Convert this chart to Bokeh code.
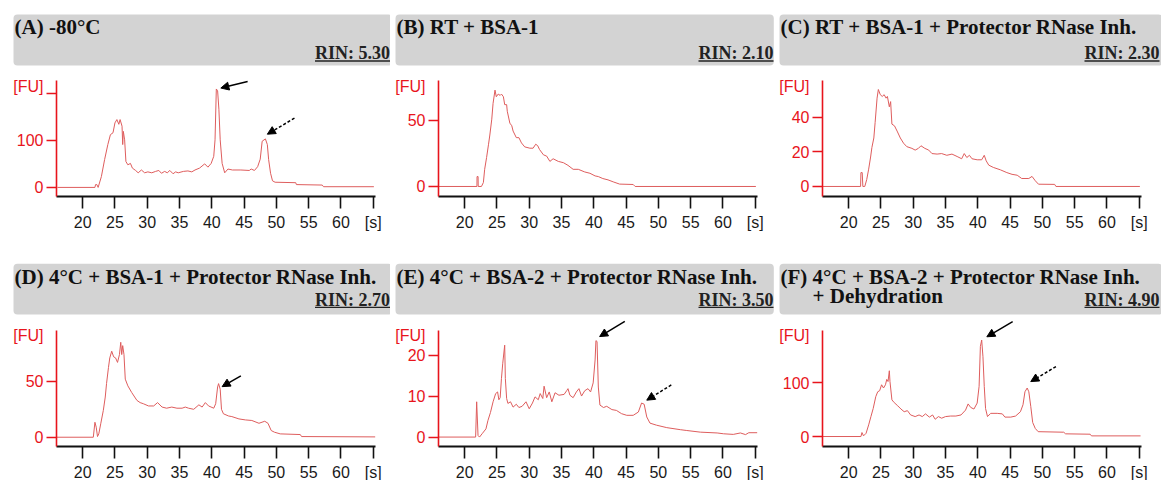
from bokeh.plotting import figure
from bokeh.models import Range1d, FixedTicker, Arrow, NormalHead
from bokeh.layouts import column, row
from bokeh.embed import file_html
from bokeh.resources import INLINE
from bokeh.core.properties import value

# ---------------- data ----------------
titles = [["(A) -80°C"], ["(B) RT + BSA-1"], ["(C) RT + BSA-1 + Protector RNase Inh."],
          ["(D) 4°C + BSA-1 + Protector RNase Inh."], ["(E) 4°C + BSA-2 + Protector RNase Inh."],
          ["(F) 4°C + BSA-2 + Protector RNase Inh.", "+ Dehydration"]]
rins = ["RIN: 5.30", "RIN: 2.10", "RIN: 2.30", "RIN: 2.70", "RIN: 3.50", "RIN: 4.90"]

x_ticks = [20, 25, 30, 35, 40, 45, 50, 55, 60, 65]
y_ticks = [[0, 100, 200], [0, 50], [0, 20, 40], [0, 50], [0, 10, 20], [0, 100]]
y_lims = [(-19.3, 227), (-7.6, 80.3), (-5.8, 61.2), (-8.3, 96), (-2.3, 26.1), (-18.5, 197.6)]

a_x = [16.1, 21.9, 22.0, 22.2, 22.4, 22.9, 23.4, 23.9, 24.3, 24.7, 25.0, 25.3, 25.6, 25.8, 26.1, 26.2, 26.3, 26.5,
       26.7, 27.0, 27.4, 27.7, 28.2, 28.6, 29.1, 29.6, 30.1, 30.7, 31.3, 31.8, 32.2, 32.7, 33.1, 33.5, 34.0, 34.4,
       34.8, 35.6, 36.3, 36.9, 37.4, 38.1, 38.9, 39.4, 39.9, 40.3, 40.5, 40.7, 40.9, 41.1, 41.3, 41.6, 42.0, 42.5,
       43.2, 44.5, 45.8, 46.1, 46.6, 47.1, 47.5, 47.8, 48.3, 48.6, 48.8, 49.1, 49.4, 49.8, 53.0, 53.1, 57.1, 57.3, 65.1]
a_y = [0, 0, 6, 6, 0, 23, 59, 91, 112, 116, 137, 144, 134, 144, 130, 91, 119, 101,
       55, 48, 51, 41, 36, 31, 37, 31, 33, 31, 34, 36, 30, 34, 31, 36, 29, 33,
       31, 34, 35, 33, 37, 41, 50, 43, 51, 66, 101, 209, 205, 166, 101, 51, 31, 39,
       37, 37, 36, 39, 36, 44, 60, 98, 103, 91, 59, 30, 14, 11, 10, 6, 5, 1.5, 1.5]

b_x = [15.95, 21.9, 21.92, 22.08, 22.1, 22.6, 22.9, 23.1, 23.4, 23.7, 23.9, 24.2, 24.4, 24.7, 24.9, 25.2, 25.5, 25.7,
       26.0, 26.2, 26.5, 26.6, 27.0, 27.3, 27.5, 28.0, 28.4, 28.8, 29.3, 30.1, 30.6, 31.0, 31.3, 31.6, 32.2, 32.7,
       33.2, 33.7, 34.5, 35.3, 36.0, 36.8, 37.6, 38.6, 39.4, 40.2, 40.7, 41.4, 42.2, 43.0, 44.0, 46.1, 46.4, 65.1]
b_y = [0, 0, 7.5, 7.5, 0, 0, 3, 13, 22, 32, 39, 51, 63, 73, 68, 70, 69, 70,
       68, 62, 62, 57, 48, 46, 42, 37, 37, 33, 30, 29, 29, 32, 31, 28, 24, 23,
       19, 21, 19, 18, 16, 13, 13, 11, 10, 8, 7.5, 6, 5, 3.5, 1.8, 1.5, 0, 0]

c_x = [15.95, 21.85, 21.9, 22.1, 22.2, 22.5, 22.8, 23.1, 23.4, 23.6, 23.9, 24.1, 24.4, 24.6, 24.9, 25.2, 25.5, 25.8,
       26.0, 26.3, 26.5, 26.7, 27.1, 27.5, 28.0, 28.5, 29.0, 29.8, 30.3, 30.8, 31.2, 31.8, 32.4, 32.9, 33.7, 34.4,
       35.2, 36.0, 36.8, 37.5, 37.9, 38.3, 38.7, 39.1, 39.9, 40.6, 41.0, 41.3, 41.7, 42.4, 43.5, 44.5, 45.3, 46.1,
       46.8, 47.9, 48.4, 48.9, 49.4, 51.9, 52.1, 65.1]
c_y = [0, 0, 8, 8, 0, 0, 4, 10, 17, 22.5, 28, 37, 51, 56, 53, 52, 53, 51,
       52, 46, 49, 36, 35, 32, 28, 25, 23, 22, 21, 22, 23.5, 22, 21, 19, 18.7, 19,
       18, 18.7, 17.3, 16, 19, 16.7, 18, 16, 15.4, 15.4, 18, 14.8, 12.3, 11, 9.6, 8, 7, 6.5,
       4.6, 4.6, 5.8, 3.3, 1.3, 1.2, 0, 0]

d_x = [15.95, 21.65, 21.9, 22.1, 22.3, 22.5, 22.8, 23.2, 23.5, 23.7, 24.0, 24.2, 24.5, 24.8, 25.1, 25.4, 25.7, 25.9,
       26.05, 26.2, 26.4, 26.6, 27.0, 27.6, 28.4, 28.9, 29.4, 30.2, 31.0, 31.6, 32.3, 33.0, 33.8, 34.6, 35.4, 35.9,
       36.4, 37.2, 38.0, 38.5, 39.0, 39.5, 40.3, 40.6, 40.9, 41.05, 41.3, 41.5, 41.8, 42.6, 43.1, 44.2, 45.2, 46.2,
       47.3, 48.2, 48.7, 49.2, 49.7, 50.6, 53.7, 53.9, 65.3]
d_y = [0, 0, 13.4, 9, 0.6, 3, 12, 24, 36, 48, 62.5, 71, 77, 72, 71, 67, 74, 85,
       74, 82, 74, 52, 46, 40, 33, 31, 30, 28, 28, 31, 27, 26, 27, 26, 26, 27,
       26, 25, 29, 27, 31, 28, 26, 30, 45, 48, 43, 25, 21, 19, 18.5, 16.4, 15.5, 15,
       12.5, 14.3, 12.5, 6, 4.5, 3, 2.4, 0.6, 0.3]

e_x = [15.95, 21.7, 21.86, 22.07, 22.3, 22.7, 23.3, 23.6, 24.0, 24.4, 24.8, 25.1, 25.3, 25.5, 25.7, 25.9, 26.2, 26.3,
       26.5, 26.7, 27.1, 27.5, 28.0, 28.4, 28.9, 29.5, 30.0, 30.5, 30.9, 31.4, 31.7, 32.1, 32.3, 32.7, 33.1, 33.5,
       34.0, 34.6, 35.4, 35.8, 36.0, 36.3, 36.8, 37.3, 37.7, 38.1, 38.6, 39.1, 39.5, 39.9, 40.2, 40.33, 40.5, 40.7,
       40.95, 41.5, 42.0, 42.8, 43.5, 44.3, 45.1, 46.1, 46.9, 47.4, 47.8, 48.2, 48.7, 49.7, 51.3, 53.4, 54.4, 56.5,
       59.1, 60.1, 61.6, 62.7, 63.5, 64.0, 65.3]
e_y = [0, 0, 8.6, 0.4, 0, 0.8, 2, 4, 6, 8.6, 10.6, 11, 9.1, 9.6, 14.3, 18, 22.4, 14.3,
       9.4, 8.2, 8.6, 7.3, 8, 7.2, 7.5, 8.6, 6.9, 8.3, 9.8, 9.1, 10.6, 9.4, 12.4, 9.6, 11, 8.6,
       10.8, 10.2, 10.4, 11.3, 11.8, 10.2, 9.6, 11, 11.8, 10, 11.3, 11.8, 11, 13.2, 18.8, 23.5, 23.3, 12.2,
       7.8, 7.2, 7.5, 6.7, 6.5, 5.7, 5.3, 5.3, 6.1, 8.3, 8, 4.9, 3.4, 2.9, 2.3, 1.8, 1.6, 1.2,
       1.0, 0.8, 0.65, 1.0, 0.6, 1.06, 1.06]

f_x = [15.95, 21.9, 22.06, 22.3, 22.7, 23.1, 23.45, 23.8, 24.2, 24.5, 24.8, 25.1, 25.4, 25.7, 25.9, 26.1, 26.3, 26.4,
       26.7, 27.05, 27.6, 28.1, 28.6, 29.1, 29.6, 30.3, 30.9, 31.4, 31.9, 32.5, 33.0, 33.4, 33.9, 34.4, 35.0, 35.8,
       36.6, 37.4, 38.1, 38.5, 38.9, 39.4, 39.9, 40.2, 40.4, 40.6, 40.8, 41.0, 41.2, 41.5, 42.0, 43.0, 43.8, 44.2,
       45.1, 45.85, 46.6, 47.0, 47.3, 47.65, 47.9, 48.2, 48.5, 48.9, 49.35, 53.3, 53.6, 57.4, 57.6, 65.2]
f_y = [0, 0, 7.4, 1.2, 6, 21.6, 37, 52, 74, 83, 85, 96, 90, 96, 106, 102, 122, 102,
       68, 63, 57, 51, 46, 48, 40, 37, 40, 37, 42, 36, 40, 32, 37, 34, 37, 38,
       38, 40, 49, 60.5, 54, 51, 62, 93, 167, 179, 148, 93, 52, 37, 43, 43, 42, 36,
       36, 38, 46, 59, 83, 90, 83, 56, 26, 15, 9, 8, 5, 4.3, 1.2, 1.2]

series_x = [a_x, b_x, c_x, d_x, e_x, f_x]
series_y = [a_y, b_y, c_y, d_y, e_y, f_y]

# arrows: (x_start, y_start, x_end, y_end, dashed)
arrows = [
    [(45.55, 225, 41.4, 211, False), (52.8, 147, 48.6, 113, True)],
    [],
    [],
    [(44.5, 55, 41.6, 45.3, False)],
    [(44.8, 28.2, 40.9, 24.5, False), (52.0, 12.7, 48.2, 9.0, True)],
    [(45.4, 213, 41.4, 185, False), (52.1, 129.6, 48.2, 101.9, True)],
]

# ---------------- styling / layout ----------------
X0, X1 = 15.95, 65.35
RED = "#e8141c"
CURVE = "#de5d5d"
TICK_FONT = "Liberation Sans"
SERIF = "Liberation Serif"

panel_w = [390, 384, 387]
panel_h = [249, 231]
border_l = [56, 48, 48]          # pixel x of the y axis inside each panel
frame_w = 319                    # pixel length of the x axis
plot_top = [80, 80.5]
plot_bot = [196, 197]
box_lr = [(13, 392), (5, 383.3), (5, 388)]
rin_right = [389.5, 383, 385]
box_tb = [(14, 65), (14.3, 65)]
title_cy = [[26.3], [27.5, 46]]
rin_cy = [52.5, 50.2]
rin_ul = [60.5, 57.8]


def panel(i):
    col, r = i % 3, i // 3
    W, H = panel_w[col], panel_h[r]
    bl = border_l[col]
    pt, pb = plot_top[r], plot_bot[r]
    y0, y1 = y_lims[i]
    s = frame_w / (X1 - X0)
    t = (pb - pt) / (y1 - y0)

    def px2x(px):
        return X0 + (px - bl) / s

    def px2y(py):
        return y1 + (pt - py) / t

    p = figure(width=W, height=H,
               x_range=Range1d(px2x(0), px2x(W)), y_range=Range1d(px2y(H), px2y(0)),
               toolbar_location=None, output_backend="svg", title=None, min_border=0)
    p.grid.visible = False
    p.outline_line_color = None

    # header
    bxl, bxr = box_lr[col]
    bt, bb = box_tb[r]
    p.quad(left=[px2x(bxl)], right=[px2x(bxr)], top=[px2y(bt)], bottom=[px2y(bb)],
           fill_color="#d3d3d3", line_color=None, border_radius=4)
    lines = titles[i]
    p.text(x=[px2x(bxl + 1), px2x(bxl + 33)][:len(lines)],
           y=[px2y(v) for v in title_cy[r]][:len(lines)], text=lines,
           text_font=value(SERIF), text_font_style="bold", text_font_size="21px",
           text_baseline="middle", text_align="left", text_color="#111111")
    rr = rin_right[col]
    p.text(x=[px2x(rr)], y=[px2y(rin_cy[r])], text=[rins[i]], text_font=value(SERIF),
           text_font_style="bold", text_font_size="18px", text_baseline="middle",
           text_align="right", text_color="#222222")
    p.segment(x0=[px2x(rr - 75)], y0=[px2y(rin_ul[r])], x1=[px2x(rr)], y1=[px2y(rin_ul[r])],
              line_color="#222222", line_width=1.3)

    # unit label on the y axis
    p.text(x=[px2x(bl - 13)], y=[px2y(pt + 5.5)], text=["[FU]"], text_font=value(TICK_FONT),
           text_font_size="16px", text_baseline="middle", text_align="right", text_color=RED)

    # trace
    p.line(series_x[i], series_y[i], line_color=CURVE, line_width=1)

    xa = p.xaxis[0]
    xa.fixed_location = y0
    xa.bounds = (X0, X1)
    xa.ticker = FixedTicker(ticks=x_ticks)
    xa.major_label_overrides = {65: "[s]"}
    xa.axis_line_color = "#111111"
    xa.axis_line_width = 2
    xa.major_tick_line_color = "#111111"
    xa.major_tick_line_width = 1.6
    xa.major_tick_out = 12
    xa.major_tick_in = 0
    xa.minor_tick_line_color = None
    xa.major_label_standoff = 5
    xa.major_label_text_font = TICK_FONT
    xa.major_label_text_font_size = "16px"
    xa.major_label_text_color = "#1a1a1a"

    ya = p.yaxis[0]
    ya.fixed_location = X0
    ya.bounds = (y0, y1)
    ya.ticker = FixedTicker(ticks=y_ticks[i])
    if 200 in y_ticks[i]:
        ya.major_label_overrides = {200: ""}
    ya.axis_line_color = RED
    ya.axis_line_width = 1.6
    ya.major_tick_line_color = RED
    ya.major_tick_line_width = 1.6
    ya.major_tick_out = 10
    ya.major_tick_in = 0
    ya.minor_tick_line_color = None
    ya.major_label_standoff = 3
    ya.major_label_text_font = TICK_FONT
    ya.major_label_text_font_size = "16px"
    ya.major_label_text_color = RED

    for (xs, ys, xe, ye, dashed) in arrows[i]:
        p.add_layout(Arrow(x_start=xs, y_start=ys, x_end=xe, y_end=ye,
                           line_color="black", line_width=1.5,
                           line_dash="3 2" if dashed else "solid",
                           end=NormalHead(size=8, fill_color="black", line_color="black")))
    return p


panels = [panel(i) for i in range(6)]
layout = column(row(panels[0], panels[1], panels[2], spacing=0),
                row(panels[3], panels[4], panels[5], spacing=0), spacing=0)

html = file_html(layout, INLINE)
html = html.replace("</head>", "<style>html,body{margin:0;padding:0;overflow:hidden;}</style></head>")
open("out.html", "w").write(html)
